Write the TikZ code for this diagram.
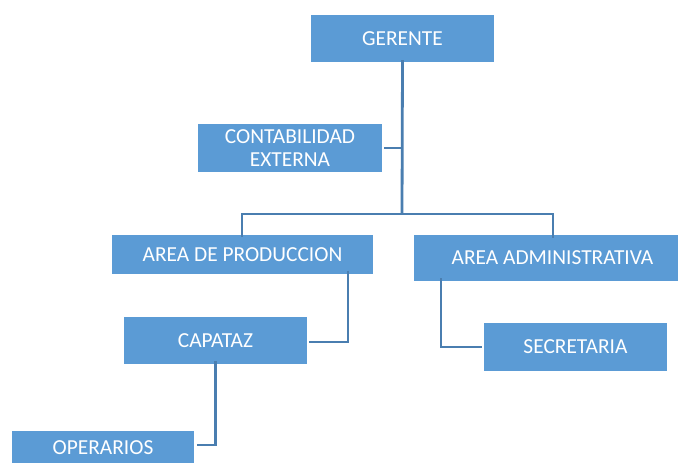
\documentclass[tikz,border=0pt]{standalone}
\usepackage{fontspec}
\setmainfont{Carlito}
\definecolor{boxblue}{HTML}{5B9BD5}
\definecolor{lineblue}{HTML}{4A7EB0}
\begin{document}
\begin{tikzpicture}[x=1pt,y=-1pt,
  box/.style={fill=boxblue, draw=none, inner sep=0pt, text=white, align=center,
    font=\fontsize{21.4}{23.5}\selectfont},
  conn/.style={draw=lineblue, line width=2.8pt}]
\useasboundingbox (0,0) rectangle (678,463);
\node[box, minimum width=183pt, minimum height=47pt] (ger) at (402.5,38.5) {GERENTE};
\node[box, minimum width=184pt, minimum height=48pt] (cont) at (290,148) {CONTABILIDAD\\EXTERNA};
\node[box, minimum width=261pt, minimum height=39pt] (prod) at (242.5,254.5) {AREA DE PRODUCCION};
\node[box, minimum width=264pt, minimum height=46pt] (admin) at (546,258) {\hspace*{13pt}AREA ADMINISTRATIVA};
\node[box, minimum width=183pt, minimum height=47pt] (cap) at (215.5,340.5) {CAPATAZ};
\node[box, minimum width=183pt, minimum height=48pt] (sec) at (575.5,347) {SECRETARIA};
\node[box, minimum width=182pt, minimum height=34pt] (op) at (103,448) {OPERARIOS};
\coordinate (busC) at (402,214);
\coordinate (busL) at (242,214);
\coordinate (busR) at (553,214);
\draw[conn] ([yshift=2pt]ger.south) -- (busC);
\draw[conn] ([xshift=2pt]cont.east) -- (cont.east -| busC);
\draw[conn] ([yshift=-2pt]busL |- prod.north) -- (busL) -- (busR) -- ([yshift=-3pt]busR |- admin.north);
\draw[conn] ([xshift=105.5pt,yshift=3pt]prod.south) |- ([xshift=2pt,yshift=-1.5pt]cap.east);
\draw[conn] ([yshift=3pt]cap.south) |- ([xshift=3pt,yshift=3pt]op.east);
\draw[conn] ([xshift=-105pt,yshift=3pt]admin.south) |- ([xshift=-2pt]sec.west);
\end{tikzpicture}
\end{document}
